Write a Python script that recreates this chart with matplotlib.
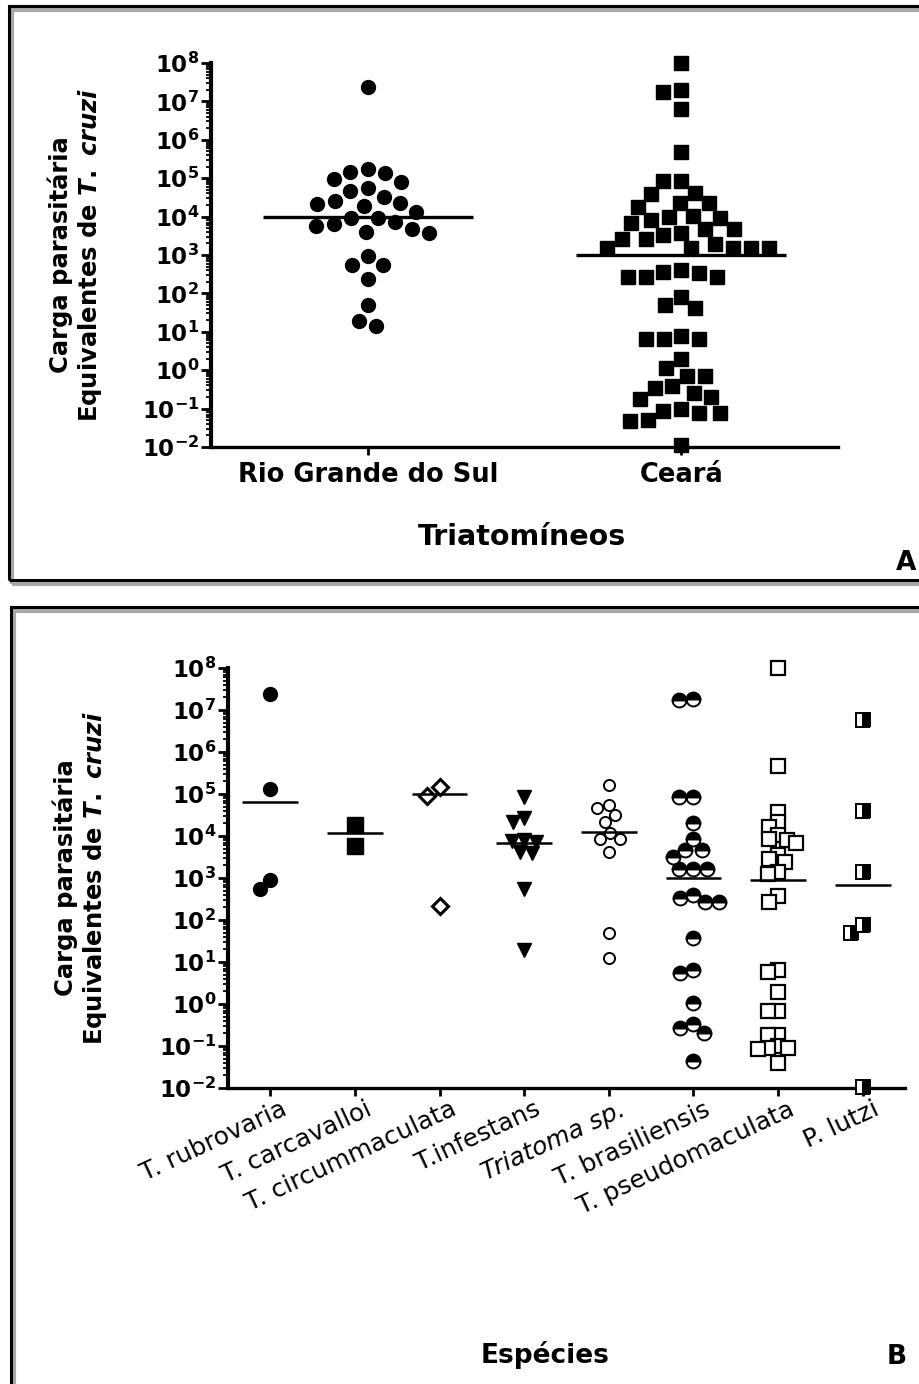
"""Parasite load dot plots (T. cruzi equivalents) by region and by species."""

import numpy as np
import matplotlib

matplotlib.use("Agg")
import matplotlib.pyplot as plt
from matplotlib.patches import Rectangle
from matplotlib.transforms import offset_copy
from matplotlib.ticker import FixedLocator, FuncFormatter, LogLocator, NullFormatter

# log10 of T. cruzi equivalents per insect
regions = ["Rio Grande do Sul", "Ceará"]
rio_grande_log = [7.38, 5.23, 5.17, 5.13, 4.97, 4.91, 4.74, 4.67, 4.52, 4.41, 4.35, 4.32,
                  4.28, 4.13, 3.97, 3.97, 3.87, 3.82, 3.76, 3.67, 3.61, 3.57, 2.97, 2.74,
                  2.74, 2.37, 1.70, 1.29, 1.15]
ceara_log = [8.00, 7.30, 7.24, 6.79, 5.67, 4.93, 4.93, 4.62, 4.59, 4.35, 4.35, 4.26,
             4.02, 3.98, 3.97, 3.91, 3.83, 3.67, 3.67, 3.57, 3.52, 3.42, 3.42, 3.29,
             3.18, 3.18, 3.18, 3.18, 3.18, 2.61, 2.57, 2.52, 2.43, 2.43, 2.43, 1.91,
             1.70, 1.61, 0.90, 0.81, 0.81, 0.81, 0.29, 0.05, -0.15, -0.15, -0.41, -0.47,
             -0.59, -0.70, -0.76, -1.01, -1.05, -1.11, -1.11, -1.30, -1.33, -1.95]
region_median_log = [4.0, 3.0]

species = ["T. rubrovaria", "T. carcavalloi", "T. circummaculata", "T.infestans",
           "Triatoma sp.", "T. brasiliensis", "T. pseudomaculata", "P. lutzi"]
rubrovaria_log = [7.38, 5.11, 2.95, 2.73]
carcavalloi_log = [4.26, 3.76]
circummaculata_log = [5.17, 4.95, 2.33]
infestans_log = [4.94, 4.42, 4.34, 3.90, 3.88, 3.86, 3.63, 3.59, 2.75, 1.29]
triatoma_sp_log = [5.21, 4.74, 4.66, 4.50, 4.34, 4.08, 3.92, 3.92, 3.63, 1.68, 1.09]
brasiliensis_log = [7.26, 7.24, 4.94, 4.94, 4.32, 3.94, 3.67, 3.67, 3.51, 3.21, 3.21, 3.21,
                    2.60, 2.52, 2.43, 2.43, 1.58, 0.81, 0.73, 0.03, -0.47, -0.56, -0.70, -1.35]
pseudomaculata_log = [7.99, 5.67, 4.58, 4.34, 4.22, 4.02, 3.94, 3.90, 3.83, 3.55, 3.45, 3.39,
                      3.15, 3.10, 2.56, 2.44, 0.81, 0.76, 0.29, -0.17, -0.17, -0.74, -0.74,
                      -1.00, -1.05, -1.05, -1.08, -1.40]
lutzi_log = [6.76, 4.60, 3.15, 1.88, 1.68, -1.97]
species_median_log = [4.80, 4.06, 5.01, 3.83, 4.10, 3.00, 2.95, 2.83]

plt.rcParams.update({
    "font.family": "DejaVu Sans",
    "mathtext.fontset": "custom",
    "mathtext.rm": "DejaVu Sans:bold",
    "mathtext.it": "DejaVu Sans:italic:bold",
    "mathtext.bf": "DejaVu Sans:bold",
})

W, H = 920, 1384
fig = plt.figure(figsize=(W / 100, H / 100), dpi=100)


def px_axes(left, top, right, bottom):
    return fig.add_axes([left / W, 1 - bottom / H, (right - left) / W, (bottom - top) / H])


def swarm_offsets(ax, xpos, logs, spacing):
    """Greedy beeswarm: x offsets (data units) so markers don't overlap."""
    vals = 10.0 ** np.asarray(logs)
    ypx = ax.transData.transform(np.column_stack([np.full(len(vals), xpos), vals]))[:, 1]
    px_per_unit = ax.transData.transform((1, 1))[0] - ax.transData.transform((0, 1))[0]
    placed = []
    xs = np.zeros(len(vals))
    for i in np.argsort(-ypx):
        y = ypx[i]
        cands = [0.0]
        for px, py in placed:
            dy = abs(py - y)
            if dy < spacing:
                dx = np.sqrt(spacing ** 2 - dy ** 2)
                cands += [px - dx, px + dx]
        cands.sort(key=lambda c: (round(abs(c), 3), c))
        for c in cands:
            if all((c - px) ** 2 + (y - py) ** 2 >= spacing ** 2 - 1e-6 for px, py in placed):
                xs[i] = c
                break
        placed.append((xs[i], y))
    return xs / px_per_unit


def style_log_axis(ax, ncat):
    ax.set_yscale("log")
    ax.set_ylim(1e-2, 1e8)
    ax.set_xlim(-0.5, ncat - 0.5)
    for side in ("top", "right"):
        ax.spines[side].set_visible(False)
    ax.spines["left"].set_linewidth(3.0)
    ax.spines["bottom"].set_linewidth(2.4)
    ax.yaxis.set_major_locator(FixedLocator(10.0 ** np.arange(-2, 9)))
    ax.yaxis.set_minor_locator(LogLocator(base=10, subs=np.arange(2, 10), numticks=100))
    ax.yaxis.set_major_formatter(FuncFormatter(lambda v, _: rf"$10^{{{int(round(np.log10(v)))}}}$"))
    ax.yaxis.set_minor_formatter(NullFormatter())
    ax.tick_params(axis="y", which="major", length=7.5, width=2, pad=1, labelsize=16.5)
    ax.tick_params(axis="y", which="minor", length=3.5, width=1.3)
    ax.tick_params(axis="x", which="major", length=6, width=2)
    ax.set_xticks(range(ncat))


def draw_group(ax, i, logs, median, spacing, half=0.33, lw=2.2, **style):
    xs = i + swarm_offsets(ax, i, logs, spacing)
    ax.plot(xs, 10.0 ** np.asarray(logs), linestyle="none", clip_on=False, zorder=3, **style)
    ax.hlines(10.0 ** median, i - half, i + half, color="black", lw=lw, zorder=4)


def panel_frame(left, top, right, bottom, letter, lx, ly):
    for dx, dy, color, lw in ((3, 4, "#a8a8a8", 3.0), (0, 0, "black", 2.2)):
        fig.patches.append(Rectangle(((left + dx) / W, 1 - (bottom + dy) / H),
                                     (right - left) / W, (bottom - top) / H,
                                     transform=fig.transFigure, fill=False,
                                     edgecolor=color, linewidth=lw, zorder=0))
    fig.text(lx / W, 1 - ly / H, letter, fontsize=19, fontweight="bold",
             ha="center", va="center")


ylabel = "Carga parasitária\nEquivalentes de $\\mathit{T.}$ $\\mathit{cruzi}$"

# ---- panel A: by region ----
panel_frame(9, 6, 960, 580, "A", 906, 563)
ax_a = px_axes(211, 63, 838, 447)
style_log_axis(ax_a, len(regions))
draw_group(ax_a, 0, rio_grande_log, region_median_log[0], 18, half=0.335, lw=2.4,
           marker="o", ms=10, color="black")
draw_group(ax_a, 1, ceara_log, region_median_log[1], 18, half=0.335, lw=2.4,
           marker="s", ms=10, color="black")
ax_a.set_xticklabels(regions, fontsize=18.5, fontweight="bold")
ax_a.tick_params(axis="x", pad=5)
ax_a.set_ylabel(ylabel, fontsize=17.5, fontweight="bold", linespacing=1.15)
ax_a.yaxis.set_label_coords(-0.17, 0.5)
fig.text(522 / W, 1 - 537 / H, "Triatomíneos", fontsize=20.5, fontweight="bold",
         ha="center", va="center")

# ---- panel B: by species ----
panel_frame(11, 607, 960, 1400, "B", 897, 1357)
ax_b = px_axes(228, 668, 905, 1088)
style_log_axis(ax_b, len(species))

groups = [rubrovaria_log, carcavalloi_log, circummaculata_log, infestans_log,
          triatoma_sp_log, brasiliensis_log, pseudomaculata_log, lutzi_log]
styles = [
    dict(marker="o", ms=10, color="black"),
    dict(marker="s", ms=11, color="black"),
    dict(marker="D", ms=8, mfc="white", mec="black", mew=2.2),
    dict(marker="v", ms=10, color="black"),
    dict(marker="o", ms=8, mfc="white", mec="black", mew=1.4),
    dict(marker="o", ms=10, fillstyle="top", mfc="black", mfcalt="white", mec="black", mew=1.4),
    dict(marker="s", ms=10, mfc="white", mec="black", mew=1.6),
    dict(marker="s", ms=10, fillstyle="right", mfc="black", mfcalt="white", mec="black", mew=1.4),
]
spacings = [14, 16, 16, 12, 12, 14, 10, 14]
for i, (logs, med, st, sp) in enumerate(zip(groups, species_median_log, styles, spacings)):
    draw_group(ax_b, i, logs, med, sp, half=0.33, lw=1.8, **st)

# slanted species names, right end tucked just past each tick
ax_b.set_xticklabels([])
name_trans = offset_copy(ax_b.get_xaxis_transform(), fig=fig, x=15, y=-20, units="dots")
for i, name in enumerate(species):
    ax_b.text(i, 0, name, transform=name_trans, fontsize=18, rotation=25,
              ha="right", va="center", rotation_mode="anchor",
              fontstyle="italic" if name.startswith("Triatoma") else "normal")
ax_b.set_ylabel(ylabel, fontsize=17.5, fontweight="bold", linespacing=1.15)
ax_b.yaxis.set_label_coords(-0.176, 0.5)
fig.text(545 / W, 1 - 1355 / H, "Espécies", fontsize=19, fontweight="bold",
         ha="center", va="center")

fig.savefig("out.png", dpi=100, facecolor="white")
plt.close(fig)
